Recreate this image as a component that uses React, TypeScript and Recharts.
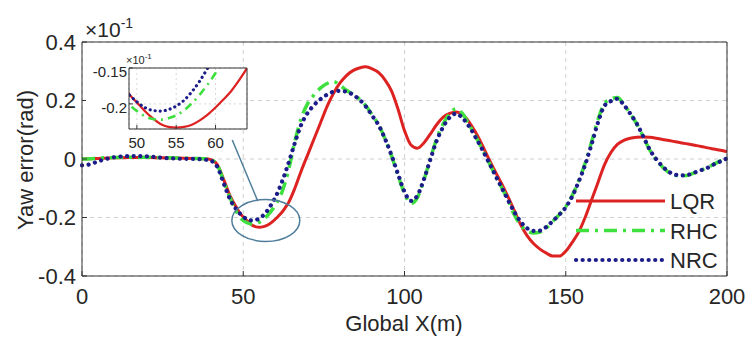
import { LineChart, Line, XAxis, YAxis, CartesianGrid, ReferenceDot, ReferenceLine } from 'recharts'

const X = [
  0, 2.5, 5, 10, 15, 20, 25, 30, 35, 38, 40, 42, 44, 46, 48, 49, 50, 51, 52, 53, 54, 55, 56, 57, 58, 59, 60, 61, 62, 63,
  64, 66, 68, 70, 72, 74, 76, 78, 80, 82, 84, 86, 88, 90, 92, 94, 96, 98, 100, 102, 104, 106, 108, 110, 112, 114, 116,
  118, 120, 122, 124, 126, 128, 130, 132, 134, 136, 138, 140, 142, 144, 146, 148, 150, 152, 154, 156, 158, 160, 162,
  164, 166, 168, 170, 172, 174, 176, 178, 180, 182, 184, 186, 188, 190, 192, 194, 196, 198, 200,
]

const LQR = [
  0, 0.001, 0.002, 0.004, 0.005, 0.005, 0.004, 0.003, 0.002, 0.001, -0.002, -0.02, -0.072, -0.128, -0.168, -0.186,
  -0.198, -0.21, -0.22, -0.228, -0.232, -0.233, -0.232, -0.229, -0.223, -0.215, -0.205, -0.194, -0.182, -0.167,
  -0.15, -0.1, -0.04, 0.015, 0.07, 0.125, 0.18, 0.225, 0.26, 0.285, 0.302, 0.311, 0.315, 0.308, 0.295, 0.27, 0.232,
  0.17, 0.097, 0.048, 0.037, 0.055, 0.085, 0.118, 0.143, 0.156, 0.161, 0.152, 0.127, 0.092, 0.05, 0.004, -0.04,
  -0.082, -0.127, -0.175, -0.224, -0.262, -0.289, -0.308, -0.322, -0.332, -0.332, -0.315, -0.285, -0.25, -0.2, -0.14,
  -0.08, -0.02, 0.022, 0.05, 0.064, 0.071, 0.074, 0.075, 0.074, 0.071, 0.067, 0.063, 0.059, 0.055, 0.051, 0.047,
  0.043, 0.038, 0.034, 0.03, 0.025,
]

const RHC = [
  0, 0.001, 0.003, 0.005, 0.006, 0.006, 0.005, 0.003, 0.002, 0.001, -0.002, -0.022, -0.078, -0.135, -0.182, -0.2,
  -0.21, -0.217, -0.221, -0.222, -0.22, -0.216, -0.209, -0.199, -0.187, -0.173, -0.157, -0.138, -0.113, -0.08,
  -0.04, 0.06, 0.14, 0.19, 0.22, 0.243, 0.258, 0.265, 0.252, 0.235, 0.222, 0.205, 0.182, 0.15, 0.116, 0.068, 0.01,
  -0.056, -0.118, -0.152, -0.132, -0.072, 0, 0.07, 0.12, 0.155, 0.172, 0.155, 0.118, 0.078, 0.036, -0.008, -0.052,
  -0.095, -0.138, -0.19, -0.226, -0.245, -0.253, -0.25, -0.235, -0.213, -0.19, -0.163, -0.125, -0.075, -0.015, 0.058,
  0.135, 0.19, 0.205, 0.21, 0.187, 0.155, 0.12, 0.077, 0.032, -0.002, -0.027, -0.046, -0.056, -0.058, -0.055, -0.047,
  -0.038, -0.029, -0.017, -0.006, 0.005,
]

const NRC = [
  -0.022, -0.018, -0.008, 0.006, 0.01, 0.009, 0.004, 0.001, 0, -0.002, -0.006, -0.028, -0.085, -0.14, -0.174, -0.187,
  -0.197, -0.205, -0.209, -0.21, -0.208, -0.203, -0.195, -0.183, -0.168, -0.15, -0.13, -0.106, -0.078, -0.048,
  -0.015, 0.055, 0.118, 0.158, 0.185, 0.205, 0.22, 0.23, 0.233, 0.23, 0.22, 0.203, 0.18, 0.148, 0.115, 0.068, 0.012,
  -0.052, -0.112, -0.143, -0.125, -0.07, -0.002, 0.063, 0.11, 0.142, 0.155, 0.14, 0.112, 0.075, 0.035, -0.008, -0.052,
  -0.095, -0.138, -0.18, -0.214, -0.237, -0.246, -0.245, -0.232, -0.212, -0.19, -0.165, -0.128, -0.078, -0.02, 0.05,
  0.125, 0.182, 0.198, 0.206, 0.185, 0.155, 0.121, 0.078, 0.033, 0, -0.025, -0.044, -0.054, -0.056, -0.054, -0.046,
  -0.038, -0.03, -0.018, -0.008, 0.002,
]

const X_TICKS = [0, 50, 100, 150, 200]
const Y_TICKS = [-0.4, -0.2, 0, 0.2, 0.4]
const INSET_X_TICKS = [50, 55, 60]
const INSET_Y_TICKS = [-0.2, -0.15]

const data = X.map((x, i) => ({ x, lqr: LQR[i], rhc: RHC[i], nrc: NRC[i] }))

const FONT = '"Liberation Sans", Arial, sans-serif'
const AXIS = '#333'
const TEXT = '#262626'

const series = [
  { key: 'lqr', name: 'LQR', color: '#dd2222', dash: undefined as string | undefined, width: 3, cap: 'butt' },
  { key: 'rhc', name: 'RHC', color: '#3ee03e', dash: '13 6 3 6', width: 3.5, cap: 'butt' },
  { key: 'nrc', name: 'NRC', color: '#1c1c8a', dash: '0.1 6.5', width: 4.2, cap: 'round' },
]

const fmt = (v: number) => (v === 0 ? '0' : String(v))

export default function App() {
  return (
    <div style={{ position: 'absolute', left: 0, top: 0, width: 745, height: 337, background: '#fff', fontFamily: FONT }}>
      <LineChart width={745} height={337} data={data} margin={{ top: 41, right: 17, bottom: 0, left: 0 }}>
        <CartesianGrid stroke="#cfcfcf" strokeDasharray="4 4" />
        <XAxis
          dataKey="x"
          type="number"
          domain={[0, 200]}
          ticks={X_TICKS}
          height={61}
          stroke={AXIS}
          tickSize={-5}
          tickMargin={17}
          tick={{ fill: TEXT, fontSize: 22, fontFamily: FONT }}
        />
        <XAxis xAxisId="top" dataKey="x" type="number" domain={[0, 200]} ticks={X_TICKS} orientation="top" height={1} stroke={AXIS} tickSize={-5} tick={false} />
        <YAxis
          type="number"
          domain={[-0.4, 0.4]}
          ticks={Y_TICKS}
          width={82}
          stroke={AXIS}
          tickSize={-5}
          tickMargin={11}
          tickFormatter={fmt}
          tick={{ fill: TEXT, fontSize: 22, fontFamily: FONT }}
        />
        <YAxis yAxisId="right" type="number" domain={[-0.4, 0.4]} ticks={Y_TICKS} orientation="right" width={1} stroke={AXIS} tickSize={-5} tick={false} />
        {series.map((s) => (
          <Line
            key={s.key}
            dataKey={s.key}
            type="monotone"
            stroke={s.color}
            strokeWidth={s.width}
            strokeDasharray={s.dash}
            strokeLinecap={s.cap as any}
            dot={false}
            isAnimationActive={false}
          />
        ))}
        <ReferenceDot
          x={57}
          y={-0.21}
          r={1}
          shape={(p: any) => <ellipse cx={p.cx} cy={p.cy} rx={34} ry={21} fill="none" stroke="#4f7e9c" strokeWidth={1.5} />}
        />
        <ReferenceLine
          segment={[{ x: 46.6, y: 0.065 }, { x: 54.5, y: -0.144 }]}
          stroke="#4f7e9c"
          strokeWidth={1.5}
        />
      </LineChart>

      {/* inset */}
      <div style={{ position: 'absolute', left: 86, top: 52, width: 142, height: 98, background: '#fff' }} />
      <div style={{ position: 'absolute', left: 90, top: 52 }}>
        <LineChart width={162} height={98} data={data} margin={{ top: 15, right: 4, bottom: 0, left: 0 }}>
          <CartesianGrid stroke="#d8d8d8" strokeDasharray="2 3" fill="#fff" />
          <XAxis
            dataKey="x"
            type="number"
            domain={[49, 64]}
            allowDataOverflow
            ticks={INSET_X_TICKS}
            height={21}
            stroke={AXIS}
            tickSize={-4}
            tickMargin={12}
            tick={{ fill: TEXT, fontSize: 15, fontFamily: FONT }}
          />
          <XAxis xAxisId="top" dataKey="x" type="number" domain={[49, 64]} allowDataOverflow ticks={INSET_X_TICKS} orientation="top" height={1} stroke={AXIS} tickSize={-4} tick={false} />
          <YAxis
            type="number"
            domain={[-0.235, -0.15]}
            allowDataOverflow
            ticks={INSET_Y_TICKS}
            width={39}
            stroke={AXIS}
            tickSize={-4}
            tickMargin={6}
            tick={{ fill: TEXT, fontSize: 15, fontFamily: FONT, dy: 4 }}
          />
          <YAxis yAxisId="right" type="number" domain={[-0.235, -0.15]} allowDataOverflow ticks={INSET_Y_TICKS} orientation="right" width={1} stroke={AXIS} tickSize={-4} tick={false} />
          {series.map((s) => (
            <Line
              key={s.key}
              dataKey={s.key}
              type="monotone"
              stroke={s.color}
              strokeWidth={s.width * 0.75}
              strokeDasharray={s.key === 'nrc' ? '0.1 5' : s.key === 'rhc' ? '8 5 2 5' : undefined}
              strokeLinecap={s.cap as any}
              dot={false}
              isAnimationActive={false}
            />
          ))}
        </LineChart>
      </div>

      {/* titles, exponent labels, legend */}
      <svg width={745} height={337} style={{ position: 'absolute', left: 0, top: 0, pointerEvents: 'none' }} fontFamily={FONT}>
        <text x={404} y={331} textAnchor="middle" fontSize={22} fill={TEXT}>Global X(m)</text>
        <text x={33} y={160} textAnchor="middle" fontSize={22} fill={TEXT} transform="rotate(-90 33 160)">Yaw error(rad)</text>
        <text x={85} y={37} fontSize={21} fill={TEXT}>×10<tspan dy={-9} fontSize={14}>-1</tspan></text>
        <text x={126} y={64} fontSize={11} fill={TEXT}>×10<tspan dy={-5} fontSize={8}>-1</tspan></text>
        {series.map((s, i) => (
          <g key={s.key}>
            <line x1={576} x2={665} y1={201 + i * 29.5} y2={201 + i * 29.5} stroke={s.color} strokeWidth={s.width} strokeDasharray={s.dash} strokeLinecap={s.cap as any} />
            <text x={670} y={201 + i * 29.5 + 8} fontSize={22} fill={TEXT}>{s.name}</text>
          </g>
        ))}
      </svg>
    </div>
  )
}
